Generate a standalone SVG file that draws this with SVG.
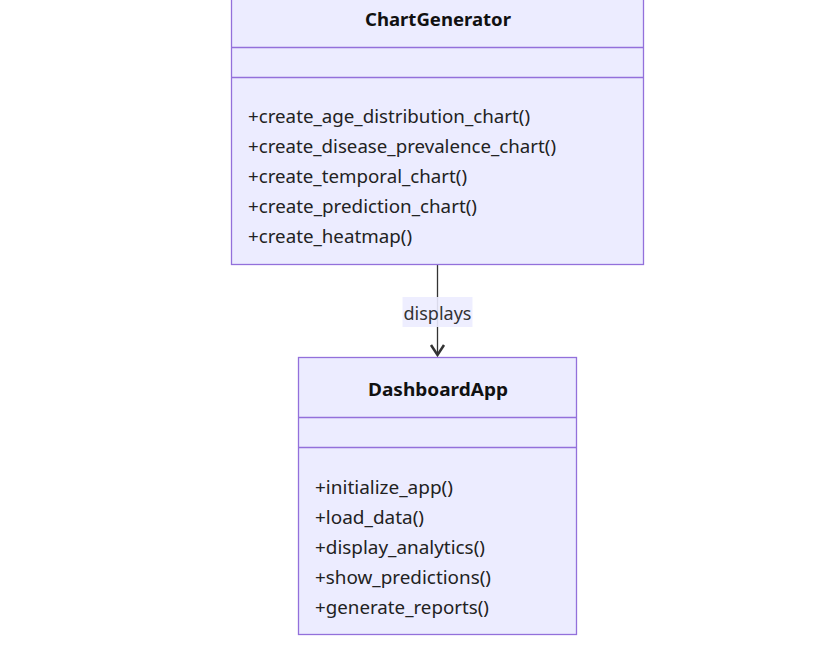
<svg xmlns="http://www.w3.org/2000/svg" width="822" height="656" viewBox="0 0 822 656">
<style>
.box{fill:#ECECFF;stroke:#9370DB;stroke-width:1.3}
.div{stroke:#9370DB;stroke-width:1.3;fill:none}
.title{font-family:"Noto Sans","Open Sans",sans-serif;font-size:18.5px;font-weight:bold;fill:#111;text-anchor:middle}
.m{font-family:"Noto Sans","Open Sans",sans-serif;font-size:18.5px;fill:#222}
.edge{stroke:#333;stroke-width:1.3;fill:none}
.lbl{font-family:"Noto Sans","Open Sans",sans-serif;font-size:18.5px;fill:#333;text-anchor:middle}
</style>
<rect width="822" height="656" fill="#fff"/>
<g id="connectors">
<line class="edge" x1="437.5" y1="265" x2="437.5" y2="355"/>
<path d="M431 345 L437.5 355 L444 345" fill="none" stroke="#333" stroke-width="2.5"/>
<rect x="402.5" y="297" width="70" height="30" fill="#ECECFF" fill-opacity="0.9"/>
<text class="lbl" x="437.5" y="319.5" textLength="68" lengthAdjust="spacingAndGlyphs">displays</text>
</g>
<g id="ChartGenerator">
<rect class="box" x="231.5" y="-10" width="412" height="274.5"/>
<line class="div" x1="231.5" y1="47.5" x2="643.5" y2="47.5"/>
<line class="div" x1="231.5" y1="77.5" x2="643.5" y2="77.5"/>
<text class="title" x="438" y="25.5" textLength="146" lengthAdjust="spacingAndGlyphs">ChartGenerator</text>
<text class="m" x="248" y="122.5" textLength="282" lengthAdjust="spacingAndGlyphs">+create_age_distribution_chart()</text>
<text class="m" x="248" y="152.5" textLength="308" lengthAdjust="spacingAndGlyphs">+create_disease_prevalence_chart()</text>
<text class="m" x="248" y="182.5" textLength="219" lengthAdjust="spacingAndGlyphs">+create_temporal_chart()</text>
<text class="m" x="248" y="212.5" textLength="229" lengthAdjust="spacingAndGlyphs">+create_prediction_chart()</text>
<text class="m" x="248" y="242.5" textLength="164" lengthAdjust="spacingAndGlyphs">+create_heatmap()</text>
</g>
<g id="DashboardApp">
<rect class="box" x="298.5" y="357.5" width="278" height="277"/>
<line class="div" x1="298.5" y1="417.5" x2="576.5" y2="417.5"/>
<line class="div" x1="298.5" y1="447.5" x2="576.5" y2="447.5"/>
<text class="title" x="438" y="395.5" textLength="140" lengthAdjust="spacingAndGlyphs">DashboardApp</text>
<text class="m" x="315" y="493.5" textLength="138" lengthAdjust="spacingAndGlyphs">+initialize_app()</text>
<text class="m" x="315" y="523.5" textLength="109" lengthAdjust="spacingAndGlyphs">+load_data()</text>
<text class="m" x="315" y="553.5" textLength="170" lengthAdjust="spacingAndGlyphs">+display_analytics()</text>
<text class="m" x="315" y="583.5" textLength="176" lengthAdjust="spacingAndGlyphs">+show_predictions()</text>
<text class="m" x="315" y="613.5" textLength="174" lengthAdjust="spacingAndGlyphs">+generate_reports()</text>
</g>
</svg>
